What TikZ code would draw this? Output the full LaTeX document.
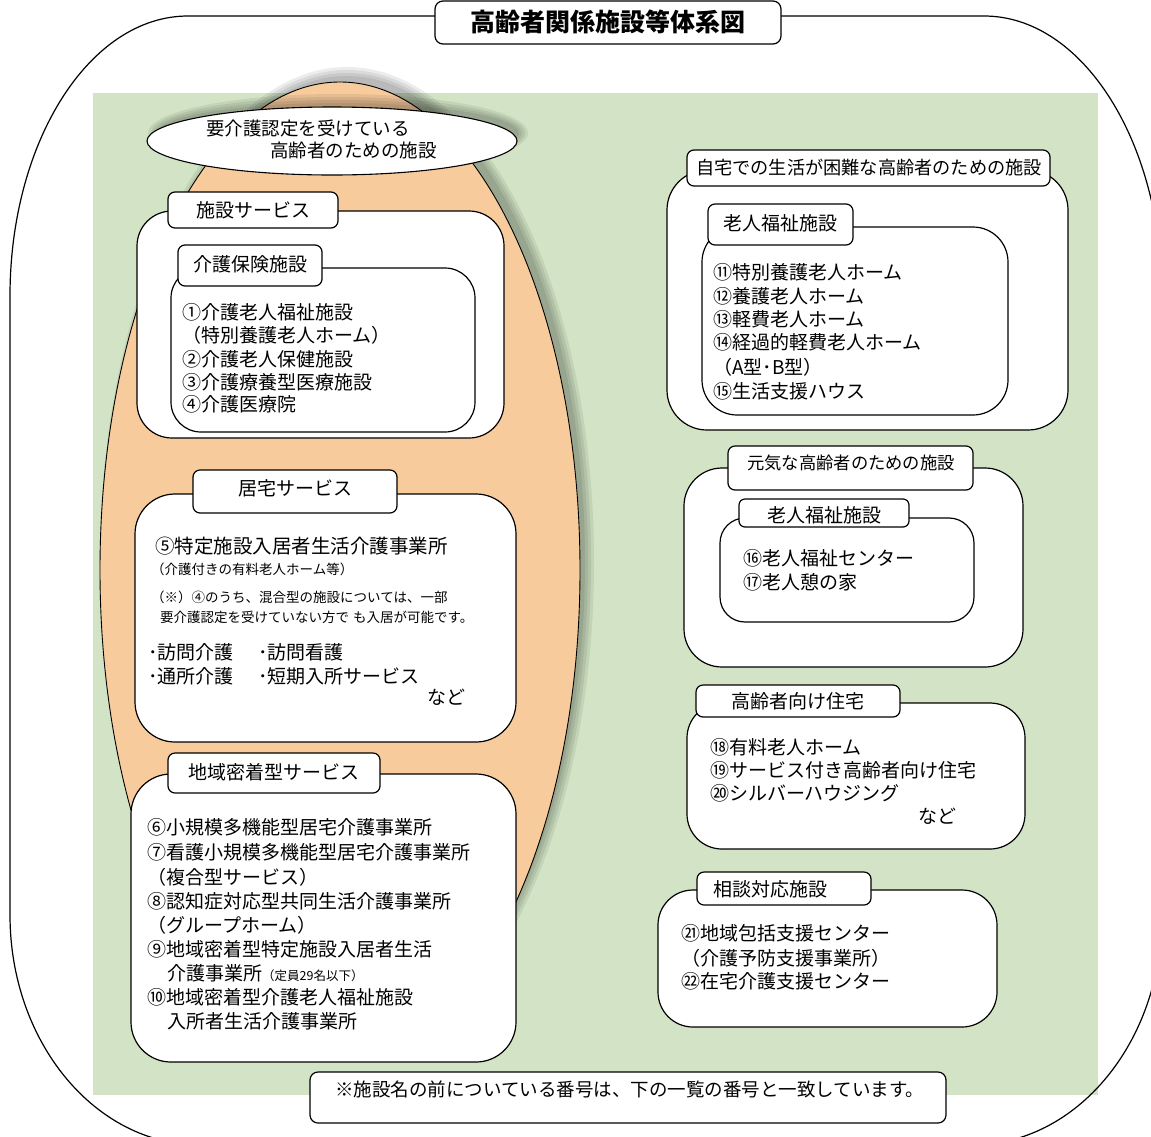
\documentclass[tikz,border=0pt]{standalone}
\usepackage{fontspec}
\setmainfont{Noto Sans CJK JP}
\usetikzlibrary{shapes.geometric}
\definecolor{bggreen}{HTML}{D2E4C5}
\definecolor{careorange}{HTML}{F8CB9C}
\tikzset{
  frame/.style={draw=black, fill=white, line width=1.2pt, inner sep=0pt, outer sep=0pt},
  t/.style={anchor=west, inner sep=0pt, font=\fontsize{19}{19}\selectfont},
  ts/.style={anchor=west, inner sep=0pt, font=\fontsize{13.5}{13.5}\selectfont},
  tc/.style={anchor=center, inner sep=0pt, font=\fontsize{19}{19}\selectfont},
  shade1/.style={fill=black, opacity=0.075},
}
\newcommand\rbox[6]{%
  \pgfmathsetmacro\rbW{#4-#2}\pgfmathsetmacro\rbH{#5-#3}%
  \pgfmathsetmacro\rbX{(#2+#4)/2}\pgfmathsetmacro\rbY{(#3+#5)/2}%
  \node[frame, rounded corners=#6pt, minimum width=\rbW pt, minimum height=\rbH pt] (#1) at (\rbX,\rbY) {};}
\begin{document}
\begin{tikzpicture}[x=1pt, y=-1pt]
\useasboundingbox (0,0) rectangle (1151,1136);
\clip (0,0) rectangle (1151,1136);
\fill[white] (0,0) rectangle (1151,1136);
% green field
\fill[bggreen] (93,93) rectangle (1098,1095);
% outer frame
\draw[line width=1.2pt] (188,16) -- (984,16)
  arc[start angle=90, end angle=0, x radius=178pt, y radius=280pt] -- (1162,915)
  arc[start angle=0, end angle=-90, x radius=190pt, y radius=230pt] -- (200,1145)
  arc[start angle=-90, end angle=-180, x radius=190pt, y radius=230pt] -- (10,296)
  arc[start angle=180, end angle=90, x radius=178pt, y radius=280pt] -- cycle;
% title
\rbox{titleBox}{435}{1}{781}{44}{8}
\node[tc, font=\fontsize{25}{25}\selectfont\bfseries] (titleTxt) at (608,22) {高齢者関係施設等体系図};
% orange ellipse with shadow
\fill[shade1] (347,562) ellipse[x radius=247pt, y radius=495pt];
\fill[shade1] (347,562) ellipse[x radius=244pt, y radius=492pt];
\fill[shade1] (347,562) ellipse[x radius=241pt, y radius=489pt];
\fill[shade1] (347,562) ellipse[x radius=238pt, y radius=486pt];
\node[ellipse, draw=black, line width=0.9pt, fill=careorange, inner sep=0pt,
  minimum width=480pt, minimum height=976pt] (careEllipse) at (340,570) {};
% white ellipse with shadow
\fill[shade1] (338,133) ellipse[x radius=190pt, y radius=39pt];
\fill[shade1] (338,133) ellipse[x radius=187pt, y radius=36pt];
\fill[shade1] (338,133) ellipse[x radius=184pt, y radius=33pt];
\fill[shade1] (338,133) ellipse[x radius=181pt, y radius=30pt];
\node[ellipse, draw=black, line width=1.1pt, fill=white, inner sep=0pt,
  minimum width=370pt, minimum height=68pt] (careTitle) at (332,141) {};
\node[t, font=\fontsize{18.5}{18.5}\selectfont] (careT1) at (206,128) {要介護認定を受けている};
\node[t, font=\fontsize{18.5}{18.5}\selectfont] (careT2) at (270,150) {高齢者のための施設};

% ---- 施設サービス
\rbox{shisetsuBox}{137}{211}{504}{438}{35}
\rbox{shisetsuTab}{168}{192}{338}{228}{7}
\node[tc] (shisetsuLbl) at (253,210) {施設サービス};
\rbox{hokenBox}{171}{268}{475}{432}{30}
\rbox{hokenTab}{178}{245}{322}{286}{7}
\node[tc] (hokenLbl) at (250,264) {介護保険施設};
\node[t] (f1) at (182,312) {①介護老人福祉施設};
\node[t] (f1b) at (182,335) {（特別養護老人ホーム）};
\node[t] (f2) at (182,359) {②介護老人保健施設};
\node[t] (f3) at (182,382) {③介護療養型医療施設};
\node[t] (f4) at (182,404) {④介護医療院};

% ---- 居宅サービス
\rbox{kyotakuBox}{135}{494}{516}{742}{40}
\rbox{kyotakuTab}{193}{470}{397}{513}{7}
\node[tc] (kyotakuLbl) at (295,488) {居宅サービス};
\node[t, font=\fontsize{19.5}{19.5}\selectfont] (f5) at (155,546) {⑤特定施設入居者生活介護事業所};
\node[ts] (f5b) at (151,569) {（介護付きの有料老人ホーム等）};
\node[ts] (f5c) at (151,597) {（※）④のうち、混合型の施設については、一部};
\node[ts] (f5d) at (160,617) {要介護認定を受けていない方で\hspace{4pt}も入居が可能です。};
\node[t] (k1) at (148,652) {･訪問介護};
\node[t] (k2) at (258,652) {･訪問看護};
\node[t] (k3) at (148,676) {･通所介護};
\node[t] (k4) at (258,676) {･短期入所サービス};
\node[t] (k5) at (427,697) {など};

% ---- 地域密着型サービス
\rbox{chiikiBox}{131}{774}{516}{1062}{40}
\rbox{chiikiTab}{168}{753}{380}{793}{7}
\node[tc] (chiikiLbl) at (274,772) {地域密着型サービス};
\node[t] (f6) at (147,827) {⑥小規模多機能型居宅介護事業所};
\node[t] (f7) at (147,852) {⑦看護小規模多機能型居宅介護事業所};
\node[t] (f7b) at (147,877) {（複合型サービス）};
\node[t] (f8) at (147,901) {⑧認知症対応型共同生活介護事業所};
\node[t] (f8b) at (147,925) {（グループホーム）};
\node[t] (f9) at (147,949) {⑨地域密着型特定施設入居者生活};
\node[t] (f9b) at (167,973) {介護事業所{\fontsize{12.5}{12.5}\selectfont （定員29名以下）}};
\node[t] (f10) at (147,997) {⑩地域密着型介護老人福祉施設};
\node[t] (f10b) at (167,1021) {入所者生活介護事業所};

% ---- 自宅での生活が困難な高齢者のための施設
\rbox{jitakuBox}{667}{170}{1068}{430}{40}
\rbox{jitakuTab}{687}{150}{1050}{186}{7}
\node[tc, font=\fontsize{18.2}{18.2}\selectfont] (jitakuLbl) at (869,168) {自宅での生活が困難な高齢者のための施設};
\rbox{roujinBoxA}{702}{227}{1008}{415}{35}
\rbox{roujinTabA}{708}{204}{853}{245}{7}
\node[tc] (roujinLblA) at (780,223) {老人福祉施設};
\node[t] (f11) at (713,272) {⑪特別養護老人ホーム};
\node[t] (f12) at (713,296) {⑫養護老人ホーム};
\node[t] (f13) at (713,319) {⑬軽費老人ホーム};
\node[t] (f14) at (713,342) {⑭経過的軽費老人ホーム};
\node[t] (f14b) at (713,367) {（A型･B型）};
\node[t] (f15) at (713,391) {⑮生活支援ハウス};

% ---- 元気な高齢者のための施設
\rbox{genkiBox}{684}{468}{1023}{667}{38}
\rbox{genkiTab}{728}{446}{973}{490}{7}
\node[tc, font=\fontsize{17.3}{17.3}\selectfont] (genkiLbl) at (851,463) {元気な高齢者のための施設};
\rbox{roujinBoxB}{720}{518}{974}{622}{25}
\rbox{roujinTabB}{739}{499}{909}{527}{6}
\node[tc] (roujinLblB) at (824,515) {老人福祉施設};
\node[t] (f16) at (743,558) {⑯老人福祉センター};
\node[t] (f17) at (743,582) {⑰老人憩の家};

% ---- 高齢者向け住宅
\rbox{juutakuBox}{687}{703}{1025}{849}{35}
\rbox{juutakuTab}{696}{685}{900}{717}{7}
\node[tc] (juutakuLbl) at (798,701) {高齢者向け住宅};
\node[t] (f18) at (710,747) {⑱有料老人ホーム};
\node[t] (f19) at (710,770) {⑲サービス付き高齢者向け住宅};
\node[t] (f20) at (710,793) {⑳シルバーハウジング};
\node[t] (j5) at (918,816) {など};

% ---- 相談対応施設
\rbox{soudanBox}{658}{890}{997}{1027}{35}
\rbox{soudanTab}{697}{872}{871}{905}{7}
\node[tc] (soudanLbl) at (770,889) {相談対応施設};
\node[t] (f21) at (681,933) {㉑地域包括支援センター};
\node[t] (f21b) at (681,958) {（介護予防支援事業所）};
\node[t] (f22) at (681,981) {㉒在宅介護支援センター};

% ---- note
\rbox{noteBox}{310}{1072}{946}{1123}{8}
\node[t, font=\fontsize{18.5}{18.5}\selectfont] (noteTxt) at (335,1089) {※施設名の前についている番号は、下の一覧の番号と一致しています。};
\end{tikzpicture}
\end{document}
